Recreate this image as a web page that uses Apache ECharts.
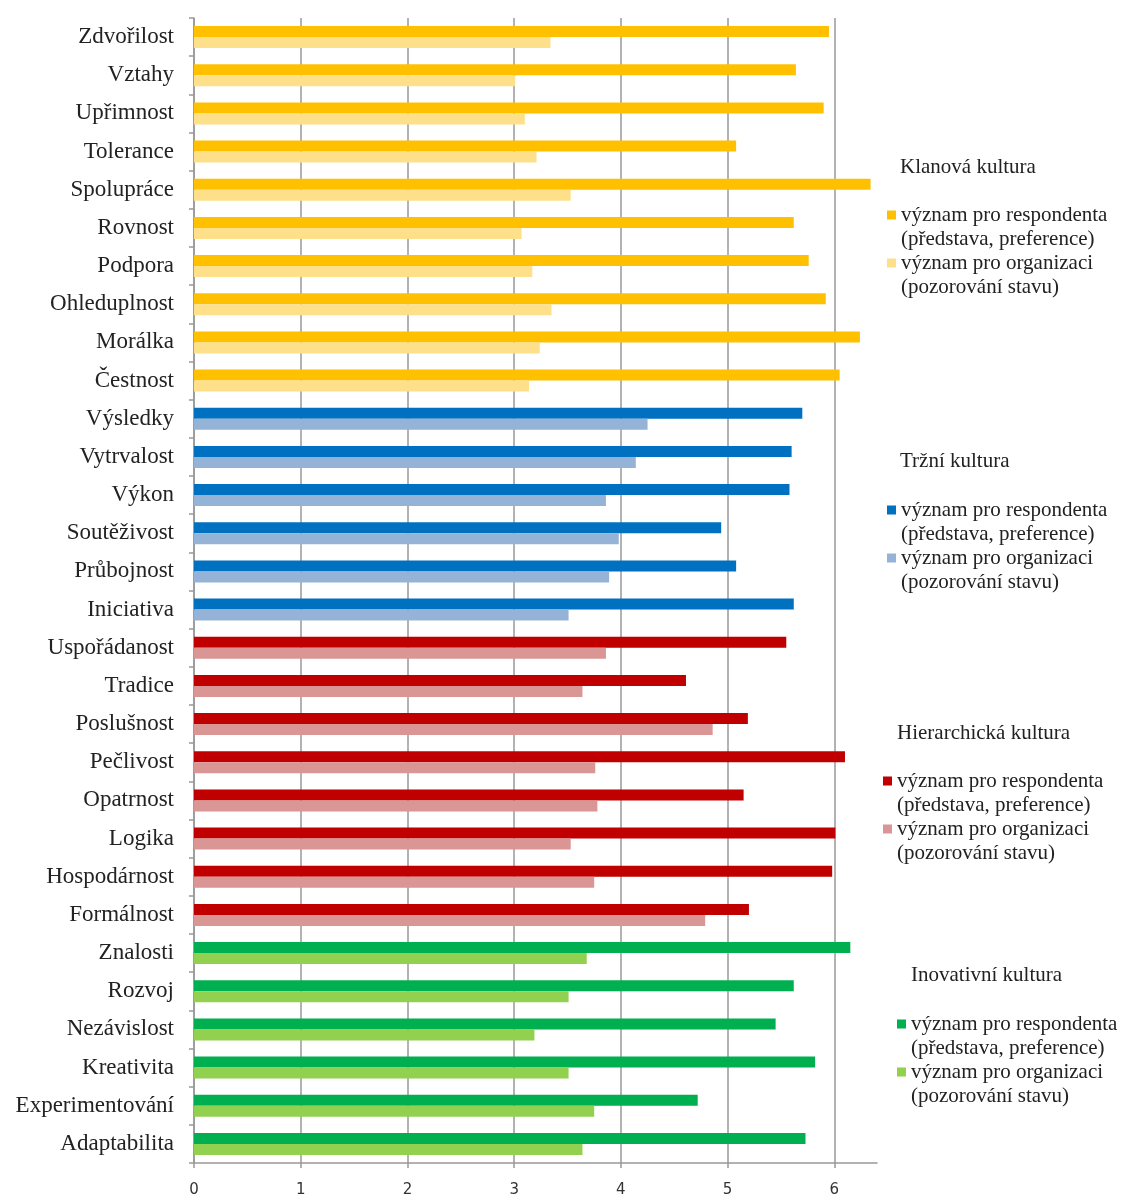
<!DOCTYPE html>
<html>
<head>
<meta charset="utf-8">
<script src="https://cdn.jsdelivr.net/npm/echarts@6/dist/echarts.min.js"></script>
<style>
  html, body { margin: 0; padding: 0; background: #fff; }
  #chart { width: 1129px; height: 1199px; }
</style>
</head>
<body>
<div id="chart"></div>
<script>
// kategorie po skupinach (shora dolu)
var klanCats = ['Zdvořilost', 'Vztahy', 'Upřimnost', 'Tolerance', 'Spolupráce', 'Rovnost', 'Podpora', 'Ohleduplnost', 'Morálka', 'Čestnost'];
var klanResp = [5.95, 5.64, 5.90, 5.08, 6.34, 5.62, 5.76, 5.92, 6.24, 6.05];
var klanOrg = [3.34, 3.01, 3.10, 3.21, 3.53, 3.07, 3.17, 3.35, 3.24, 3.14];

var trzniCats = ['Výsledky', 'Vytrvalost', 'Výkon', 'Soutěživost', 'Průbojnost', 'Iniciativa'];
var trzniResp = [5.70, 5.60, 5.58, 4.94, 5.08, 5.62];
var trzniOrg = [4.25, 4.14, 3.86, 3.98, 3.89, 3.51];

var hierCats = ['Uspořádanost', 'Tradice', 'Poslušnost', 'Pečlivost', 'Opatrnost', 'Logika', 'Hospodárnost', 'Formálnost'];
var hierResp = [5.55, 4.61, 5.19, 6.10, 5.15, 6.01, 5.98, 5.20];
var hierOrg = [3.86, 3.64, 4.86, 3.76, 3.78, 3.53, 3.75, 4.79];

var inovCats = ['Znalosti', 'Rozvoj', 'Nezávislost', 'Kreativita', 'Experimentování', 'Adaptabilita'];
var inovResp = [6.15, 5.62, 5.45, 5.82, 4.72, 5.73];
var inovOrg = [3.68, 3.51, 3.19, 3.51, 3.75, 3.64];

var groupNames = ['Klanová kultura', 'Tržní kultura', 'Hierarchická kultura', 'Inovativní kultura'];
var xTicks = [0, 1, 2, 3, 4, 5, 6];

var respLabel = 'význam pro respondenta\n(představa, preference)';
var orgLabel = 'význam pro organizaci\n(pozorování stavu)';

var groups = [
    {cats: klanCats, resp: klanResp, org: klanOrg, dark: '#FFC000', light: '#FFE08A'},
    {cats: trzniCats, resp: trzniResp, org: trzniOrg, dark: '#0070C0', light: '#95B3D7'},
    {cats: hierCats, resp: hierResp, org: hierOrg, dark: '#C00000', light: '#DA9694'},
    {cats: inovCats, resp: inovResp, org: inovOrg, dark: '#00B050', light: '#92D050'}
];

var categories = [].concat(klanCats, trzniCats, hierCats, inovCats);

var serif = 'Liberation Serif';
var textCol = '#222';

// hodnoty dane skupiny, jinde prazdno
function padded(offset, vals) {
    return categories.map(function (c, i) {
        var k = i - offset;
        return (k >= 0 && k < vals.length) ? vals[k] : '-';
    });
}

var series = [];
var titles = [];
var legends = [];
// pozice legend vpravo
var legendPos = [
    {title: [900, 155], left: 887, top: 203},
    {title: [900, 449], left: 887, top: 498},
    {title: [897, 721], left: 883, top: 769},
    {title: [911, 963], left: 897, top: 1012}
];
// ikonka legendy zarovnana k prvnimu radku
var legendIcon = 'path://M0,0L9,0L9,9L0,9Z M0,33L0.01,33L0.01,33.01Z';

var offset = 0;
groups.forEach(function (g, gi) {
    var respName = groupNames[gi] + ' – respondent';
    var orgName = groupNames[gi] + ' – organizace';
    series.push({
        name: respName,
        type: 'bar',
        stack: 'resp',
        barWidth: 11,
        barGap: '0%',
        itemStyle: {color: g.dark},
        data: padded(offset, g.resp)
    });
    series.push({
        name: orgName,
        type: 'bar',
        stack: 'org',
        barWidth: 11,
        barGap: '0%',
        itemStyle: {color: g.light},
        data: padded(offset, g.org)
    });
    offset += g.cats.length;

    var p = legendPos[gi];
    titles.push({
        text: groupNames[gi],
        left: p.title[0],
        top: p.title[1],
        padding: 0,
        textStyle: {fontFamily: serif, fontSize: 21, fontWeight: 'normal', color: textCol, lineHeight: 24}
    });
    legends.push({
        data: [respName, orgName],
        orient: 'vertical',
        left: p.left,
        top: p.top,
        padding: 0,
        itemGap: 0,
        itemWidth: 9,
        itemHeight: 33,
        icon: legendIcon,
        selectedMode: false,
        formatter: function (name) {
            return name.indexOf('respondent') >= 0 ? respLabel : orgLabel;
        },
        textStyle: {fontFamily: serif, fontSize: 21, color: textCol, lineHeight: 24}
    });
});

var chart = echarts.init(document.getElementById('chart'));
chart.setOption({
    animation: false,
    title: titles,
    legend: legends,
    grid: {left: 194, right: 252, top: 18, bottom: 36, containLabel: false},
    xAxis: {
        type: 'value',
        min: 0,
        max: 6.4,
        axisLine: {show: true, lineStyle: {color: '#999', width: 1.5}},
        axisTick: {show: true, length: 5, customValues: xTicks, lineStyle: {color: '#999', width: 1.5}},
        axisLabel: {
            customValues: xTicks,
            margin: 20,
            fontFamily: 'DejaVu Sans',
            fontSize: 15,
            color: '#333'
        },
        splitLine: {show: true, lineStyle: {color: '#999', width: 1.5}}
    },
    yAxis: {
        type: 'category',
        inverse: true,
        data: categories,
        axisLine: {show: true, lineStyle: {color: '#999', width: 1.5}},
        axisTick: {show: true, length: 5, lineStyle: {color: '#999', width: 1.5}},
        axisLabel: {
            margin: 20,
            fontFamily: serif,
            fontSize: 23,
            color: textCol
        },
        splitLine: {show: false}
    },
    series: series
});
</script>
</body>
</html>
